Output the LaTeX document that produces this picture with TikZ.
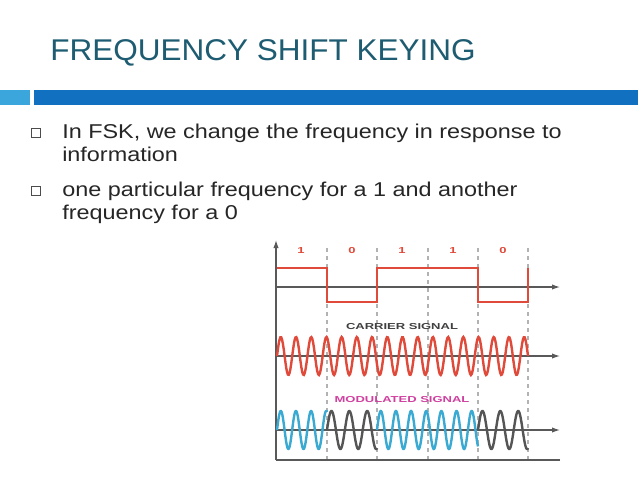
\documentclass[tikz,border=0pt]{standalone}
\usepackage{fontspec}
\setmainfont{Liberation Sans}
\newfontfamily\bodyf[FakeStretch=1.17]{Liberation Sans}
\newfontfamily\titlef[FakeStretch=1.05]{Liberation Sans}
\newfontfamily\labf[FakeStretch=1.5]{Liberation Sans}
\usetikzlibrary{arrows.meta}
\definecolor{titlec}{HTML}{1E5C72}
\definecolor{barl}{HTML}{3AA6DC}
\definecolor{bard}{HTML}{1170C0}
\definecolor{sigred}{HTML}{E04A3A}
\definecolor{sigblue}{HTML}{3AAAD2}
\definecolor{siggray}{HTML}{555555}
\definecolor{modmag}{HTML}{D040A0}
\tikzset{
  body/.style={anchor=base west,font=\bodyf\fontsize{15pt}{18pt}\selectfont,inner sep=0pt,text=black!85},
  bul/.style={draw=black!70,line width=0.5pt,minimum size=7pt,inner sep=0pt},
  ax/.style={draw=black!65,line width=0.9pt},
  axarr/.style={ax,-{Latex[length=6pt,width=4pt]}},
  dsh/.style={draw=black!30,dashed,line width=0.9pt},
  wave/.style={line width=1.8pt,samples=300},
  lab/.style={font=\labf\bfseries\fontsize{6.5pt}{7pt}\selectfont,inner sep=0pt}
}
\begin{document}
\begin{tikzpicture}[x=0.75pt,y=-0.75pt]
\useasboundingbox[fill=white] (0,0) rectangle (638,479);
\node[anchor=base west,inner sep=0pt,text=titlec,font=\titlef\fontsize{22.5pt}{26pt}\selectfont] (title) at (50,60) {FREQUENCY SHIFT KEYING};
\fill[barl] (0,90) rectangle (30,105);
\fill[bard] (34,90) rectangle (638,105);
\node[bul] (b1) at (36,133) {};
\node[bul] (b2) at (36,191) {};
\node[body] (t1) at (62,138) {In FSK, we change the frequency in response to};
\node[body] (t1b) at (62,161) {information};
\node[body] (t2) at (62,196) {one particular frequency for a 1 and another};
\node[body] (t2b) at (62,219) {frequency for a 0};
% diagram
\foreach \xx in {327,377,428,478,528} \draw[dsh] (\xx,248) -- (\xx,462);
\coordinate (o) at (276,460);
\coordinate (ytop) at (276,240);
\coordinate (xend) at (560,460);
\draw[ax] (xend) -- (o);
\draw[axarr] (o) -- (ytop);
\foreach \yy in {287,356,430} {\coordinate (s\yy) at (276,\yy); \coordinate (e\yy) at (560,\yy); \draw[axarr] (s\yy) -- (e\yy);}
\foreach \xx/\b in {301/1,352/0,402/1,453/1,503/0} \node[lab,text=sigred] at (\xx,251) {\b};
\draw[sigred,line width=1.4pt] (277,268) -- (327,268) -- (327,302) -- (377,302) -- (377,268) -- (478,268) -- (478,302) -- (528,302) -- (528,268);
\node[lab,text=black!75] (car) at (402,327) {CARRIER SIGNAL};
\draw[sigred,wave,domain=0:251] plot ({277+\x},{356-19*sin(\x/251*16.5*360)});
\node[lab,text=modmag] (mod) at (402,400) {MODULATED SIGNAL};
\draw[sigblue,wave,domain=0:50] plot ({277+\x},{430-19*sin(\x/50*3.3*360)});
\draw[siggray,wave,domain=0:50] plot ({327+\x},{430-19*sin(\x/50*2.8*360)});
\draw[sigblue,wave,domain=0:101] plot ({377+\x},{430-19*sin(\x/50*3.3*360)});
\draw[siggray,wave,domain=0:50] plot ({478+\x},{430-19*sin(\x/50*2.8*360)});
\end{tikzpicture}
\end{document}
